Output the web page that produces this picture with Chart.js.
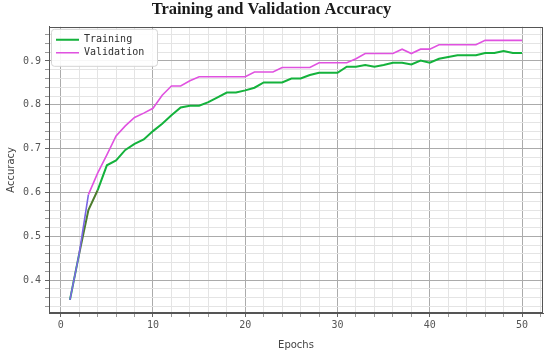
<!DOCTYPE html>
<html>
<head>
<meta charset="utf-8">
<script src="https://cdn.jsdelivr.net/npm/chart.js@4.4.1/dist/chart.umd.min.js"></script>
<style>
  html, body { margin: 0; padding: 0; background: #ffffff; }
  #wrap { width: 550px; height: 355px; }
</style>
</head>
<body>
<div id="wrap"><canvas id="c" width="550" height="355"></canvas></div>
<script>
const epochs = [1,2,3,4,5,6,7,8,9,10,11,12,13,14,15,16,17,18,19,20,21,22,23,24,25,26,27,28,29,30,31,32,33,34,35,36,37,38,39,40,41,42,43,44,45,46,47,48,49,50];
const training = [0.355,0.460,0.560,0.605,0.662,0.673,0.697,0.711,0.721,0.740,
                  0.757,0.776,0.794,0.798,0.798,0.806,0.817,0.828,0.828,0.833,
                  0.839,0.851,0.851,0.851,0.860,0.860,0.868,0.873,0.873,0.873,
                  0.887,0.887,0.891,0.887,0.891,0.896,0.896,0.892,0.901,0.896,
                  0.905,0.909,0.913,0.913,0.913,0.918,0.918,0.923,0.918,0.918];
const validation = [0.355,0.460,0.595,0.644,0.686,0.729,0.752,0.771,0.781,0.792,
                    0.822,0.843,0.843,0.855,0.864,0.864,0.864,0.864,0.864,0.864,
                    0.875,0.875,0.875,0.885,0.885,0.885,0.885,0.896,0.896,0.896,
                    0.896,0.905,0.917,0.917,0.917,0.917,0.927,0.917,0.927,0.927,
                    0.937,0.937,0.937,0.937,0.937,0.947,0.947,0.947,0.947,0.947];
const xMajorTicks = [0, 10, 20, 30, 40, 50];
const yMajorTicks = [0.4, 0.5, 0.6, 0.7, 0.8, 0.9];
const xMinorStep = 2;
const yMinorStep = 0.02;
const seriesNames = ['Training', 'Validation'];
const titleText = 'Training and Validation Accuracy';
const xTitle = 'Epochs';
const yTitle = 'Accuracy';

function isMajor(v, majors) { return majors.some(m => Math.abs(m - v) < 1e-6); }
function buildTicks(scale, step) {
  const out = [];
  const start = Math.ceil(scale.min / step - 1e-9);
  const end = Math.floor(scale.max / step + 1e-9);
  for (let i = start; i <= end; i++) out.push({ value: +(i * step).toFixed(6) });
  scale.ticks = out;
}

const GRID_MAJOR = '#ababab';
const GRID_MINOR = '#e4e4e4';
const AXIS_COLOR = '#555555';

const framePlugin = {
  id: 'frame',
  afterLayout(chart) {
    const a = chart.chartArea;
    chart.legend.left = a.left + 4;
    chart.legend.top = a.top + 5;
  },
  afterDatasetsDraw(chart) {
    const { ctx, chartArea: a } = chart;
    ctx.save();
    ctx.fillStyle = 'rgba(255,255,255,0.9)';
    ctx.strokeStyle = '#d4d4d4';
    ctx.lineWidth = 1;
    ctx.beginPath();
    ctx.roundRect(a.left + 2.5, a.top + 2.5, 106, 37, 3);
    ctx.fill();
    ctx.stroke();
    ctx.restore();
    chart.legend.draw();
    ctx.save();
    ctx.strokeStyle = AXIS_COLOR;
    ctx.lineWidth = 1;
    ctx.strokeRect(Math.round(a.left) + 0.5, Math.round(a.top) + 0.5,
                   Math.round(a.width) - 1, Math.round(a.height) - 1);
    ctx.restore();
  }
};

const tickFont = { family: 'DejaVu Sans Mono', size: 10 };

new Chart(document.getElementById('c'), {
  type: 'line',
  data: {
    datasets: [
      {
        label: seriesNames[0],
        data: epochs.map((e, i) => ({ x: e, y: training[i] })),
        borderColor: '#14b23c',
        backgroundColor: '#14b23c',
        borderWidth: 2,
        pointRadius: 0,
        tension: 0,
        order: 2,
        segment: {
          borderColor: c => (c.p0DataIndex === 1 || c.p0DataIndex === 2) ? '#4d7d2e' : undefined
        }
      },
      {
        label: seriesNames[1],
        data: epochs.map((e, i) => ({ x: e, y: validation[i] })),
        borderColor: '#e052e0',
        backgroundColor: '#e052e0',
        borderWidth: 1.6,
        pointRadius: 0,
        tension: 0,
        order: 1,
        segment: {
          borderColor: c => (c.p0DataIndex < 2) ? '#7a66e4' : undefined
        }
      }
    ]
  },
  options: {
    responsive: false,
    animation: false,
    devicePixelRatio: 1,
    layout: { padding: { left: 0, right: 7, top: 0, bottom: 0 } },
    plugins: {
      title: {
        display: true,
        text: titleText,
        color: '#1a1a1a',
        font: { family: 'Liberation Serif', size: 16.5, weight: 'bold' },
        padding: { top: 0, bottom: 7 }
      },
      legend: {
        position: 'chartArea',
        align: 'start',
        labels: {
          usePointStyle: true,
          pointStyle: 'line',
          pointStyleWidth: 23,
          padding: 3,
          color: '#333333',
          font: { family: 'DejaVu Sans Mono', size: 10 },
          sort: (a, b) => a.datasetIndex - b.datasetIndex
        }
      },
      tooltip: { enabled: false }
    },
    scales: {
      x: {
        type: 'linear',
        min: -1.27,
        max: 52.27,
        afterBuildTicks: s => buildTicks(s, xMinorStep),
        afterFit: s => { s.height = 42; },
        ticks: {
          autoSkip: false,
          maxRotation: 0,
          padding: 2,
          color: '#555555',
          font: tickFont,
          callback: v => isMajor(v, xMajorTicks) ? String(Math.round(v)) : ''
        },
        grid: {
          color: c => isMajor(c.tick.value, xMajorTicks) ? GRID_MAJOR : GRID_MINOR,
          tickColor: c => isMajor(c.tick.value, xMajorTicks) ? '#666666' : '#999999',
          tickLength: 4,
          lineWidth: 1
        },
        border: { display: true, color: AXIS_COLOR, width: 1 },
        title: {
          display: true,
          text: xTitle,
          color: '#444444',
          font: { family: 'DejaVu Sans', size: 10 },
          padding: { top: 0, bottom: 4 }
        }
      },
      y: {
        type: 'linear',
        min: 0.325,
        max: 0.978,
        afterBuildTicks: s => buildTicks(s, yMinorStep),
        afterFit: s => { s.width = 49; },
        ticks: {
          autoSkip: false,
          padding: 4,
          color: '#555555',
          font: tickFont,
          callback: v => isMajor(v, yMajorTicks) ? v.toFixed(1) : ''
        },
        grid: {
          color: c => isMajor(c.tick.value, yMajorTicks) ? GRID_MAJOR : GRID_MINOR,
          tickColor: c => isMajor(c.tick.value, yMajorTicks) ? '#666666' : '#999999',
          tickLength: 4,
          lineWidth: 1
        },
        border: { display: true, color: AXIS_COLOR, width: 1 },
        title: {
          display: true,
          text: yTitle,
          color: '#444444',
          font: { family: 'DejaVu Sans', size: 10 },
          padding: { top: 5, bottom: 0 }
        }
      }
    }
  },
  plugins: [framePlugin]
});
</script>
</body>
</html>
